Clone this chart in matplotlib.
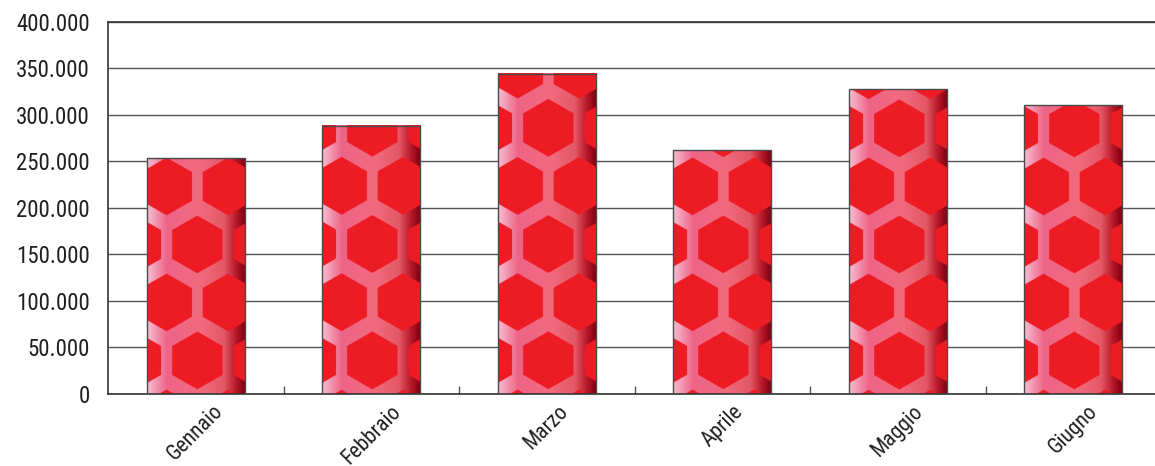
import numpy as np
import matplotlib
matplotlib.use('Agg')
import matplotlib.pyplot as plt
from matplotlib import font_manager
from matplotlib.colors import LinearSegmentedColormap

# Data
months = ['Gennaio', 'Febbraio', 'Marzo', 'Aprile', 'Maggio', 'Giugno']
values = [253500, 288000, 344000, 262000, 327500, 310500]
y_ticks = [0, 50000, 100000, 150000, 200000, 250000, 300000, 350000, 400000]
y_tick_labels = ['0', '50.000', '100.000', '150.000', '200.000',
                 '250.000', '300.000', '350.000', '400.000']

# Font: pick a condensed family if one is installed
names = {f.name for f in font_manager.fontManager.ttflist}
FONT = 'DejaVu Sans'
STRETCH = 'normal'
for cand in ['Liberation Sans Narrow', 'Roboto Condensed', 'Open Sans Condensed']:
    if cand in names:
        FONT = cand
        break
else:
    STRETCH = 'condensed'
plt.rcParams['font.family'] = [FONT, 'DejaVu Sans']

FIG_W, FIG_H = 1155, 466
AX_LEFT, AX_RIGHT, AX_TOP, AX_BOTTOM = 108, 108 + 6 * 175.5, 21.7, 394
BAR_WIDTH = 0.56

HEX_RED = '#ed1c24'
line_cmap = LinearSegmentedColormap.from_list('hexlines', [
    (0.00, '#f6bfd3'),
    (0.20, '#ee6488'),
    (0.55, '#f06a7c'),
    (0.78, '#e45866'),
    (0.90, '#b81828'),
    (1.00, '#7c0010'),
])


def hex_texture(w_px, h_px, phase_x=50.0, scale=3):
    W, H = int(round(w_px * scale)), int(round(h_px * scale))
    xs = (np.arange(W) + 0.5) / scale
    ys = (np.arange(H) + 0.5) / scale
    X, Y = np.meshgrid(xs, ys)
    Yb = h_px - Y  # distance from bar bottom
    dx, dy, y0, apo = 61.0, 58.0, 33.5, 25.0
    inside = np.zeros(X.shape, bool)
    row0 = np.floor((Yb - y0) / dy)
    for dr in (-1, 0, 1, 2):
        r = row0 + dr
        cy = y0 + r * dy
        off = phase_x + (r % 2) * dx / 2
        cx = off + np.round((X - off) / dx) * dx
        px = np.abs(X - cx)
        py = np.abs(Yb - cy)
        d = np.maximum(px, px / 2 + py * np.sqrt(3) / 2)
        inside |= d <= apo
    img = line_cmap(X / w_px)[..., :3]
    img[inside] = matplotlib.colors.to_rgb(HEX_RED)
    return img


fig = plt.figure(figsize=(FIG_W / 100, FIG_H / 100), dpi=100)
ax = fig.add_axes([AX_LEFT / FIG_W, (FIG_H - AX_BOTTOM) / FIG_H,
                   (AX_RIGHT - AX_LEFT) / FIG_W, (AX_BOTTOM - AX_TOP) / FIG_H])

x = np.arange(len(months))
bars = ax.bar(x, values, width=BAR_WIDTH, facecolor='none',
              edgecolor='#4a4a4a', linewidth=1.0, zorder=3)

px_per_x = (AX_RIGHT - AX_LEFT) / 6.0
px_per_y = (AX_BOTTOM - AX_TOP) / 400000.0
for rect in bars:
    bx, bw, bh = rect.get_x(), rect.get_width(), rect.get_height()
    img = hex_texture(bw * px_per_x, bh * px_per_y)
    ax.imshow(img, extent=[bx, bx + bw, 0, bh], aspect='auto',
              origin='upper', interpolation='antialiased', zorder=2)

ax.set_xlim(-0.5, 5.5)
ax.set_ylim(0, 400000)
ax.set_aspect('auto')

ax.set_yticks(y_ticks)
ax.set_yticklabels(y_tick_labels, fontsize=16.5, color='#231f20',
                   fontstretch=STRETCH)
ax.tick_params(axis='y', length=0, pad=13)
ax.yaxis.grid(True, color='#555555', linewidth=1.0, zorder=1)
ax.set_axisbelow(True)

ax.set_xticks(x)
ax.set_xticklabels(months, rotation=45, ha='center', va='top', fontsize=15.5,
                   color='#231f20', fontstretch=STRETCH)
ax.tick_params(axis='x', which='major', length=0, pad=5)
ax.set_xticks(x[:-1] + 0.5, minor=True)
ax.tick_params(axis='x', which='minor', direction='in', length=6,
               color='#555555', width=1.0)

for side in ['left', 'top', 'bottom']:
    ax.spines[side].set_color('#333333')
    ax.spines[side].set_linewidth(1.2)
ax.spines['right'].set_visible(False)

fig.savefig('out.png', dpi=100)
